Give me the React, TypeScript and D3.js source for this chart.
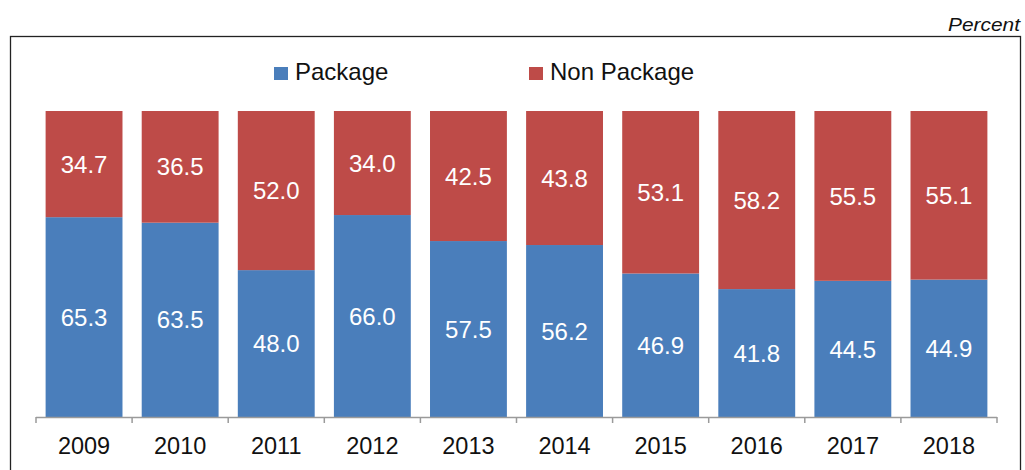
import { useEffect, useRef } from "react";
import * as d3 from "d3";

const years = ["2009", "2010", "2011", "2012", "2013", "2014", "2015", "2016", "2017", "2018"];
const packageValues = [65.3, 63.5, 48.0, 66.0, 57.5, 56.2, 46.9, 41.8, 44.5, 44.9];
const nonPackageValues = [34.7, 36.5, 52.0, 34.0, 42.5, 43.8, 53.1, 58.2, 55.5, 55.1];
const seriesNames = ["Package", "Non Package"];
const seriesColors = ["#4A7EBB", "#BE4B48"];

const FONT = "'Liberation Sans', Arial, sans-serif";

export default function App() {
  const ref = useRef<SVGSVGElement>(null);

  useEffect(() => {
    if (!ref.current) return;
    const width = 1025;
    const height = 470;

    const svg = d3.select(ref.current).attr("width", width).attr("height", height);
    svg.selectAll("*").remove();

    svg
      .append("rect")
      .attr("width", width)
      .attr("height", height)
      .attr("fill", "#fff");

    // outer frame (runs off the bottom)
    svg
      .append("rect")
      .attr("x", 10.5)
      .attr("y", 36.5)
      .attr("width", 1010)
      .attr("height", 460)
      .attr("fill", "none")
      .attr("stroke", "#222")
      .attr("stroke-width", 1.3);

    svg
      .append("text")
      .attr("x", 948)
      .attr("y", 31)
      .attr("font-family", FONT)
      .attr("font-style", "italic")
      .attr("font-size", 18)
      .attr("textLength", 72)
      .attr("lengthAdjust", "spacingAndGlyphs")
      .attr("fill", "#111")
      .text("Percent");

    const x = d3
      .scaleBand<string>()
      .domain(years)
      .range([36, 997])
      .paddingInner(0.2)
      .paddingOuter(0.1);

    const y = d3.scaleLinear().domain([0, 100]).range([417, 111]);

    const rows = years.map((year, i) => ({
      year,
      pkg: packageValues[i],
      non: nonPackageValues[i],
    }));

    const stack = d3.stack<(typeof rows)[number]>().keys(["pkg", "non"]);
    const layers = stack(rows);

    layers.forEach((layer, li) => {
      const g = svg.append("g");
      g.selectAll("rect")
        .data(layer)
        .join("rect")
        .attr("x", (d) => x(d.data.year)!)
        .attr("width", x.bandwidth())
        .attr("y", (d) => y(d[1]))
        .attr("height", (d) => y(d[0]) - y(d[1]))
        .attr("fill", seriesColors[li]);

      g.selectAll("text")
        .data(layer)
        .join("text")
        .attr("x", (d) => x(d.data.year)! + x.bandwidth() / 2)
        .attr("y", (d) => (y(d[0]) + y(d[1])) / 2)
        .attr("dy", "0.36em")
        .attr("text-anchor", "middle")
        .attr("font-family", FONT)
        .attr("font-size", 24)
        .attr("fill", "#fff")
        .text((d) => (d[1] - d[0]).toFixed(1));
    });

    // category axis with ticks at band boundaries
    const axis = svg.append("g");
    axis
      .append("line")
      .attr("x1", 36)
      .attr("x2", 997)
      .attr("y1", 417.5)
      .attr("y2", 417.5)
      .attr("stroke", "#9a9a9a")
      .attr("stroke-width", 1.5);

    const boundaries = d3.range(years.length + 1).map((i) => 36 + i * x.step());
    axis
      .selectAll("line.tick")
      .data(boundaries)
      .join("line")
      .attr("class", "tick")
      .attr("x1", (d) => d)
      .attr("x2", (d) => d)
      .attr("y1", 417)
      .attr("y2", 423)
      .attr("stroke", "#9a9a9a")
      .attr("stroke-width", 1.5);

    axis
      .selectAll("text")
      .data(years)
      .join("text")
      .attr("x", (d) => x(d)! + x.bandwidth() / 2)
      .attr("y", 454)
      .attr("text-anchor", "middle")
      .attr("font-family", FONT)
      .attr("font-size", 23.5)
      .attr("fill", "#111")
      .text((d) => d);

    // legend
    const legendX = [274, 529];
    const legend = svg.append("g");
    seriesNames.forEach((name, i) => {
      legend
        .append("rect")
        .attr("x", legendX[i])
        .attr("y", 67)
        .attr("width", 14)
        .attr("height", 13)
        .attr("fill", seriesColors[i]);
      legend
        .append("text")
        .attr("x", legendX[i] + 21)
        .attr("y", 80)
        .attr("font-family", FONT)
        .attr("font-size", 24)
        .attr("fill", "#111")
        .text(name);
    });
  }, []);

  return <svg ref={ref} style={{ position: "absolute", left: 0, top: 0 }} />;
}
